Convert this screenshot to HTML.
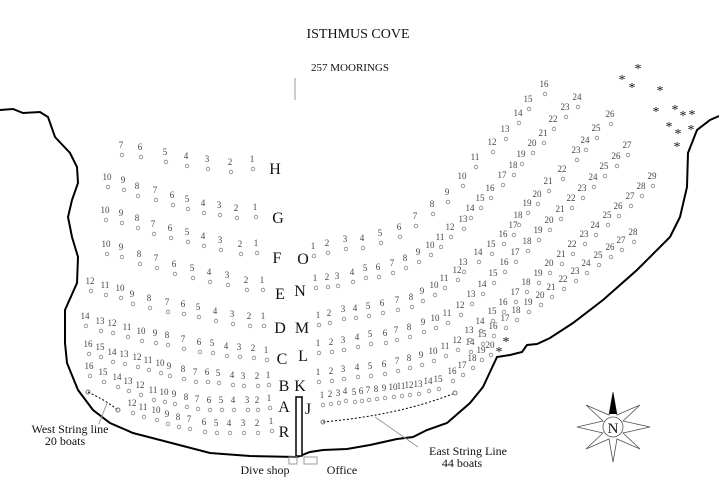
<!DOCTYPE html>
<html><head><meta charset="utf-8"><style>
html,body{margin:0;padding:0;background:#fff;}
svg{display:block;}
.n{font-family:"Liberation Serif",serif;font-size:9px;fill:#444;text-anchor:middle;}
.L{font-family:"Liberation Serif",serif;font-size:16px;fill:#111;text-anchor:middle;}
.t{font-family:"Liberation Serif",serif;fill:#111;text-anchor:middle;}
.a{font-family:"Liberation Serif",serif;font-size:14px;fill:#111;text-anchor:middle;}
</style></head><body>
<svg id="s" width="719" height="478" viewBox="0 0 719 478" xmlns="http://www.w3.org/2000/svg">
<text class="t" x="358" y="38" font-size="14">ISTHMUS COVE</text>
<text class="t" x="350" y="71" font-size="11">257 MOORINGS</text>
<line x1="295" y1="78" x2="295" y2="100" stroke="#999" stroke-width="1"/>

<!-- coastline west -->
<path d="M0,110 L13,109 L23,113 L40,112 L48,117 L55,137 L70,153 L77,167 L78,183 L72,200 L68,217 L72,237 L78,257 L77,283 L65,310 L65,343 L67,363 L78,390 L93,410 L110,423 L133,433 L160,440 L210,453 L250,456 L297,457 L310,452 L323,450 L347,449 L370,445 L397,439 L413,437 L427,430 L447,423 L470,403 L483,387 L490,372 L497,357 L510,355 L522,352 L527,345 L537,344 L550,338 L573,323 L603,300 L637,270 L670,237 L680,217 L687,187 L688,153 L697,130 L710,120 L719,116" fill="none" stroke="#000" stroke-width="2"/>
<!-- pier -->
<rect x="296" y="397" width="6" height="59" fill="#fff" stroke="#000" stroke-width="1.5"/>
<rect x="289" y="457" width="8" height="7" fill="none" stroke="#999"/>
<rect x="304" y="457" width="13" height="7" fill="none" stroke="#999"/>
<text class="t" x="265" y="474" font-size="12">Dive shop</text>
<text class="t" x="342" y="474" font-size="12">Office</text>
<!-- string lines -->
<path d="M88,392 Q105,400 118,410" fill="none" stroke="#000" stroke-dasharray="2,2"/>
<circle cx="88" cy="392" r="2" fill="none" stroke="#777"/><circle cx="118" cy="410" r="2" fill="none" stroke="#777"/>
<line x1="107" y1="403" x2="99" y2="424" stroke="#999"/>
<text class="t" x="70" y="433" font-size="12">West String line</text>
<text class="t" x="65" y="445" font-size="12">20 boats</text>
<path d="M323,422 Q400,415 455,393" fill="none" stroke="#000" stroke-dasharray="2,2"/>
<circle cx="323" cy="422" r="2" fill="none" stroke="#777"/><circle cx="455" cy="393" r="2" fill="none" stroke="#777"/>
<line x1="375" y1="417" x2="418" y2="447" stroke="#999"/>
<text class="t" x="468" y="455" font-size="12">East String Line</text>
<text class="t" x="462" y="467" font-size="12">44 boats</text>

<!-- compass -->
<g stroke="#555" stroke-width="0.8" fill="#fff">
<polygon points="613,392 617,415 640,405 623,421 650,427 623,433 640,449 617,439 613,462 609,439 586,449 603,433 577,427 603,421 586,405 609,415"/>
<circle cx="613" cy="427" r="10"/>
</g>
<polygon points="613,392 609,414 617,414" fill="#000"/>
<text class="t" x="613" y="433" font-size="15">N</text>

<!-- asterisks -->
<g class="a">
<text x="638" y="73">*</text><text x="622" y="84">*</text><text x="632" y="92">*</text><text x="660" y="95">*</text>
<text x="656" y="116">*</text><text x="675" y="114">*</text><text x="683" y="120">*</text><text x="692" y="119">*</text>
<text x="669" y="131">*</text><text x="678" y="138">*</text><text x="691" y="134">*</text><text x="677" y="151">*</text>
<text x="506" y="346">*</text><text x="499" y="356">*</text>
</g>

<!-- row letters -->
<g class="L">
<text x="275" y="174">H</text><text x="278" y="223">G</text><text x="277" y="263">F</text><text x="280" y="299">E</text>
<text x="280" y="333">D</text><text x="282" y="364">C</text><text x="284" y="391">B</text><text x="284" y="412">A</text><text x="284" y="437">R</text>
<text x="303" y="264">O</text><text x="300" y="296">N</text><text x="302" y="333">M</text><text x="303" y="361">L</text><text x="300" y="391">K</text><text x="308" y="414">J</text>
</g>

<g id="nums" class="n">
<!-- H -->
<text x="121" y="148">7</text><text x="140" y="150">6</text><text x="165" y="155">5</text><text x="186" y="159">4</text><text x="207" y="162">3</text><text x="230" y="165">2</text><text x="252" y="162">1</text>
<!-- G -->
<text x="107" y="180">10</text><text x="123" y="183">9</text><text x="137" y="189">8</text><text x="155" y="193">7</text><text x="172" y="198">6</text><text x="187" y="202">5</text><text x="203" y="206">4</text><text x="219" y="208">3</text><text x="236" y="211">2</text><text x="255" y="210">1</text>
<!-- F -->
<text x="105" y="213">10</text><text x="121" y="216">9</text><text x="137" y="221">8</text><text x="153" y="227">7</text><text x="170" y="231">6</text><text x="187" y="235">5</text><text x="203" y="239">4</text><text x="220" y="243">3</text><text x="240" y="247">2</text><text x="256" y="246">1</text>
<!-- E -->
<text x="106" y="247">10</text><text x="121" y="250">9</text><text x="139" y="257">8</text><text x="156" y="261">7</text><text x="174" y="267">6</text><text x="192" y="271">5</text><text x="209" y="275">4</text><text x="227" y="278">3</text><text x="246" y="283">2</text><text x="262" y="283">1</text>
<!-- D -->
<text x="90" y="284">12</text><text x="105" y="288">11</text><text x="120" y="291">10</text><text x="132" y="297">9</text><text x="149" y="301">8</text><text x="167" y="305">7</text><text x="183" y="307">6</text><text x="198" y="310">5</text><text x="215" y="314">4</text><text x="232" y="317">3</text><text x="249" y="319">2</text><text x="263" y="319">1</text>
<!-- C -->
<text x="85" y="319">14</text><text x="100" y="324">13</text><text x="112" y="326">12</text><text x="127" y="330">11</text><text x="141" y="334">10</text><text x="155" y="336">9</text><text x="167" y="338">8</text><text x="183" y="342">7</text><text x="199" y="345">6</text><text x="212" y="346">5</text><text x="226" y="349">4</text><text x="239" y="350">3</text><text x="253" y="351">2</text><text x="266" y="353">1</text>
<!-- B -->
<text x="88" y="347">16</text><text x="100" y="350">15</text><text x="112" y="355">14</text><text x="124" y="357">13</text><text x="137" y="360">12</text><text x="148" y="363">11</text><text x="160" y="366">10</text><text x="169" y="369">9</text><text x="183" y="372">8</text><text x="195" y="375">7</text><text x="207" y="375">6</text><text x="218" y="376">5</text><text x="232" y="378">4</text><text x="243" y="379">3</text><text x="257" y="379">2</text><text x="268" y="378">1</text>
<!-- A -->
<text x="89" y="369">16</text><text x="103" y="375">15</text><text x="117" y="380">14</text><text x="128" y="384">13</text><text x="140" y="388">12</text><text x="153" y="393">11</text><text x="164" y="395">10</text><text x="174" y="397">9</text><text x="186" y="400">8</text><text x="197" y="402">7</text><text x="209" y="403">6</text><text x="221" y="403">5</text><text x="233" y="403">4</text><text x="247" y="403">3</text><text x="257" y="403">2</text><text x="269" y="401">1</text>
<!-- R -->
<text x="132" y="406">12</text><text x="143" y="410">11</text><text x="156" y="413">10</text><text x="167" y="417">9</text><text x="178" y="420">8</text><text x="189" y="422">7</text><text x="204" y="425">6</text><text x="216" y="426">5</text><text x="229" y="426">4</text><text x="243" y="426">3</text><text x="257" y="426">2</text><text x="271" y="424">1</text>
<!-- O -->
<text x="313" y="249">1</text><text x="327" y="246">2</text><text x="345" y="242">3</text><text x="362" y="241">4</text><text x="380" y="236">5</text><text x="399" y="230">6</text><text x="415" y="219">7</text><text x="432" y="207">8</text><text x="447" y="195">9</text><text x="462" y="179">10</text><text x="475" y="160">11</text><text x="492" y="145">12</text><text x="505" y="132">13</text><text x="518" y="116">14</text><text x="528" y="102">15</text><text x="544" y="87">16</text>
<!-- N -->
<text x="315" y="281">1</text><text x="327" y="280">2</text><text x="337" y="279">3</text><text x="352" y="275">4</text><text x="365" y="271">5</text><text x="378" y="270">6</text><text x="392" y="266">7</text><text x="405" y="261">8</text><text x="418" y="255">9</text><text x="430" y="248">10</text><text x="440" y="240">11</text><text x="450" y="230">12</text><text x="463" y="222">13</text><text x="470" y="211">14</text><text x="480" y="201">15</text><text x="490" y="191">16</text><text x="502" y="178">17</text><text x="513" y="168">18</text><text x="521" y="157">19</text><text x="532" y="146">20</text><text x="543" y="136">21</text><text x="553" y="122">22</text><text x="565" y="110">23</text><text x="577" y="100">24</text>
<!-- M -->
<text x="318" y="318">1</text><text x="329" y="316">2</text><text x="343" y="312">3</text><text x="355" y="311">4</text><text x="368" y="309">5</text><text x="382" y="306">6</text><text x="397" y="303">7</text><text x="411" y="300">8</text><text x="422" y="294">9</text><text x="434" y="288">10</text><text x="444" y="281">11</text><text x="457" y="273">12</text><text x="463" y="265">13</text><text x="478" y="255">14</text><text x="491" y="247">15</text><text x="503" y="237">16</text><text x="513" y="228">17</text><text x="518" y="218">18</text><text x="527" y="206">19</text><text x="537" y="197">20</text><text x="548" y="184">21</text><text x="562" y="172">22</text><text x="576" y="153">23</text><text x="585" y="143">24</text><text x="596" y="131">25</text><text x="610" y="117">26</text>
<!-- L -->
<text x="318" y="346">1</text><text x="331" y="345">2</text><text x="343" y="343">3</text><text x="357" y="340">4</text><text x="370" y="337">5</text><text x="385" y="336">6</text><text x="396" y="333">7</text><text x="409" y="330">8</text><text x="423" y="325">9</text><text x="435" y="321">10</text><text x="447" y="316">11</text><text x="460" y="308">12</text><text x="471" y="297">13</text><text x="482" y="287">14</text><text x="493" y="276">15</text><text x="504" y="265">16</text><text x="515" y="255">17</text><text x="527" y="244">18</text><text x="538" y="233">19</text><text x="549" y="223">20</text><text x="560" y="212">21</text><text x="571" y="201">22</text><text x="582" y="191">23</text><text x="593" y="180">24</text><text x="604" y="169">25</text><text x="616" y="159">26</text><text x="627" y="148">27</text>
<!-- K -->
<text x="318" y="375">1</text><text x="331" y="374">2</text><text x="343" y="372">3</text><text x="357" y="370">4</text><text x="370" y="369">5</text><text x="384" y="367">6</text><text x="397" y="364">7</text><text x="409" y="361">8</text><text x="421" y="358">9</text><text x="433" y="354">10</text><text x="445" y="349">11</text><text x="457" y="343">12</text><text x="469" y="333">13</text><text x="480" y="324">14</text><text x="492" y="314">15</text><text x="503" y="305">16</text><text x="515" y="295">17</text><text x="526" y="285">18</text><text x="538" y="276">19</text><text x="549" y="266">20</text><text x="561" y="257">21</text><text x="572" y="247">22</text><text x="584" y="237">23</text><text x="595" y="228">24</text><text x="607" y="218">25</text><text x="618" y="209">26</text><text x="630" y="199">27</text><text x="641" y="189">28</text><text x="652" y="179">29</text>
<!-- extra row -->
<text x="470" y="345">14</text><text x="482" y="337">15</text><text x="493" y="329">16</text><text x="505" y="321">17</text><text x="516" y="313">18</text><text x="528" y="305">19</text><text x="540" y="298">20</text><text x="551" y="290">21</text><text x="563" y="282">22</text><text x="575" y="274">23</text><text x="586" y="266">24</text><text x="598" y="258">25</text><text x="610" y="250">26</text><text x="621" y="243">27</text><text x="633" y="235">28</text>
<!-- J -->
<text x="322" y="398">1</text><text x="330" y="397">2</text><text x="338" y="396">3</text><text x="345" y="394">4</text><text x="354" y="395">5</text><text x="361" y="394">6</text><text x="368" y="393">7</text><text x="376" y="392">8</text><text x="384" y="391">9</text><text x="393" y="390">10</text><text x="401" y="389">11</text><text x="409" y="388">12</text><text x="418" y="387">13</text><text x="428" y="384">14</text><text x="438" y="382">15</text><text x="452" y="374">16</text><text x="462" y="368">17</text><text x="472" y="361">18</text><text x="481" y="353">19</text><text x="490" y="348">20</text>
</g>
<g id="circ" fill="none" stroke="#888" stroke-width="0.8"></g>
</svg>
<script>
(function(){var ns="http://www.w3.org/2000/svg",g=document.getElementById("circ");
var t=document.querySelectorAll("#nums text");
for(var i=0;i<t.length;i++){var x=+t[i].getAttribute("x"),y=+t[i].getAttribute("y");
var c=document.createElementNS(ns,"circle");c.setAttribute("cx",x+1);c.setAttribute("cy",y+7);c.setAttribute("r",1.8);g.appendChild(c);}})();
</script>
</body></html>
